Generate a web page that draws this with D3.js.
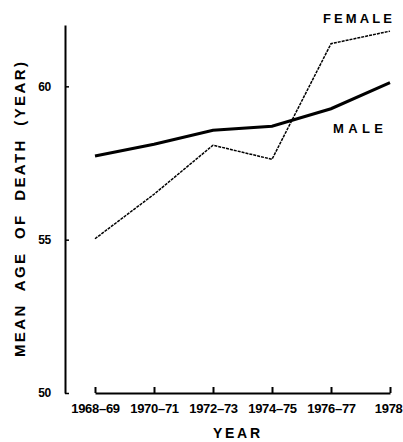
<!DOCTYPE html>
<html>
<head>
<meta charset="utf-8">
<script src="https://cdn.jsdelivr.net/npm/d3@7"></script>
<style>
  body { margin: 0; background: #fff; }
  text { font-family: "Liberation Sans", "DejaVu Sans", sans-serif; fill: #000; }
</style>
</head>
<body>
<svg id="chart" width="403" height="442"></svg>
<script>
const periods = ["1968\u201369", "1970\u201371", "1972\u201373", "1974\u201375", "1976\u201377", "1978"];
const male = [57.73, 58.11, 58.57, 58.70, 59.27, 60.12];
const female = [55.03, 56.48, 58.08, 57.62, 61.39, 61.80];
const yTicks = [50, 55, 60];

const svg = d3.select("#chart");

const x = d3.scalePoint()
    .domain(periods)
    .range([95, 390]);

const y = d3.scaleLinear()
    .domain([50, 62])
    .range([393, 25]);

// x axis, ticks pointing up
const xAxis = svg.append("g")
    .attr("transform", `translate(0, ${y(50)})`)
    .call(d3.axisBottom(x).tickSizeInner(-6).tickSizeOuter(0).tickPadding(11));
xAxis.select(".domain").attr("stroke-width", 2);
xAxis.selectAll(".tick line").attr("stroke-width", 2);
xAxis.selectAll(".tick text")
    .attr("font-size", 13)
    .attr("font-weight", "bold")
    .attr("letter-spacing", -0.3);
// last label sits against the right edge
xAxis.selectAll(".tick text")
    .filter(d => d === periods[periods.length - 1])
    .attr("text-anchor", "end")
    .attr("dx", 12);

// y axis, ticks pointing right
const yAxis = svg.append("g")
    .attr("transform", "translate(65, 0)")
    .call(d3.axisLeft(y).tickValues(yTicks).tickSizeInner(-4).tickSizeOuter(0).tickPadding(14));
yAxis.select(".domain").attr("stroke-width", 2);
yAxis.selectAll(".tick line").attr("stroke-width", 1.5);
yAxis.selectAll(".tick text")
    .attr("font-size", 12)
    .attr("font-weight", "bold")
    .attr("letter-spacing", -0.3);

const line = d3.line()
    .x((d, i) => x(periods[i]))
    .y(d => y(d));

svg.append("path")
    .datum(male)
    .attr("d", line)
    .attr("fill", "none")
    .attr("stroke", "#000")
    .attr("stroke-width", 3);

svg.append("path")
    .datum(female)
    .attr("d", line)
    .attr("fill", "none")
    .attr("stroke", "#000")
    .attr("stroke-width", 1.5)
    .attr("stroke-dasharray", "3,1");

// series labels
svg.append("text")
    .attr("x", 323)
    .attr("y", 23)
    .attr("font-size", 13)
    .attr("font-weight", "bold")
    .attr("textLength", 69)
    .attr("lengthAdjust", "spacing")
    .text("FEMALE");

svg.append("text")
    .attr("x", 333)
    .attr("y", 133)
    .attr("font-size", 13)
    .attr("font-weight", "bold")
    .attr("textLength", 50)
    .attr("lengthAdjust", "spacing")
    .text("MALE");

// axis titles
svg.append("text")
    .attr("x", 213)
    .attr("y", 438)
    .attr("font-size", 14)
    .attr("font-weight", "bold")
    .attr("textLength", 47)
    .attr("lengthAdjust", "spacing")
    .text("YEAR");

svg.append("text")
    .attr("transform", "translate(25, 357) rotate(-90)")
    .attr("font-size", 15)
    .attr("font-weight", "bold")
    .attr("textLength", 295)
    .attr("lengthAdjust", "spacing")
    .attr("word-spacing", 6)
    .text("MEAN AGE OF DEATH (YEAR)");
</script>
</body>
</html>
